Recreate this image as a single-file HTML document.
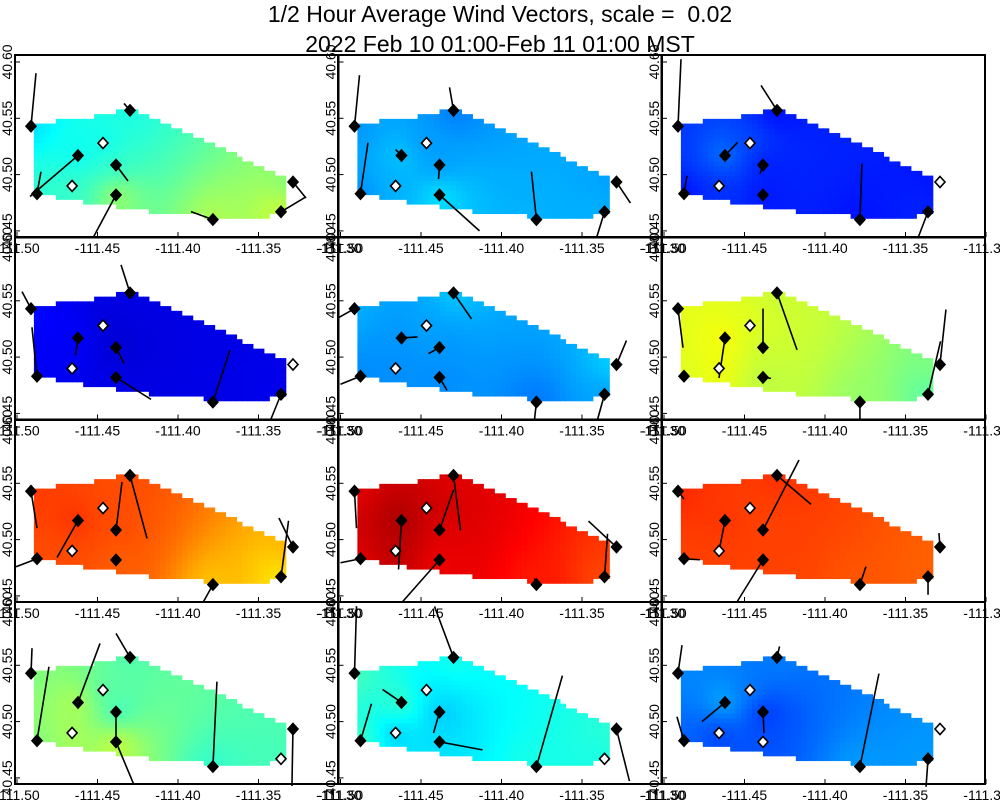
<!DOCTYPE html>
<html><head><meta charset="utf-8">
<style>
html,body{margin:0;padding:0;background:#fff;}
svg{display:block;font-family:"Liberation Sans",sans-serif;}
</style></head>
<body>
<svg id="chart" width="1000" height="800" viewBox="0 0 1000 800">
<text x="500" y="22" text-anchor="middle" font-size="23" xml:space="preserve">1/2 Hour Average Wind Vectors, scale =  0.02</text>
<text x="500" y="52" text-anchor="middle" font-size="23">2022 Feb 10 01:00-Feb 11 01:00 MST</text>
<g id="panels"></g>
<g id="labels"></g>
</svg>
<script>
// station locations
const stationLon = [-111.4913,-111.4298,-111.4466,-111.4621,-111.4385,-111.4658,-111.4876,-111.4385,-111.3783,-111.3286,-111.3360];
const stationLat = [40.5430,40.5570,40.5280,40.5170,40.5085,40.4900,40.4830,40.4820,40.4600,40.4934,40.4670];
// domain outline (lon, lat)
const domainLon = [-111.4888,-111.4621,-111.4311,-111.4267,-111.3304,-111.3323,-111.3329,-111.3658,-111.4068,-111.4317,-111.4590,-111.4795,-111.4888];
const domainLat = [40.5458,40.5494,40.5574,40.5565,40.4961,40.4899,40.4641,40.4615,40.4659,40.4703,40.4757,40.4810,40.4828];
// wind vector components per panel (east, north; null = missing)
const windU = [
 [5,-6,null,-48,12,null,4,-23,-22,13,25],
 [5,-4,null,-6,-1,null,7.5,40,-5,14,-8],
 [3,-16,null,12.5,-3,null,3,0,2,null,-10],
 [-9,-9,null,-2.5,8,null,-5,35,17,null,-11],
 [-16,18,null,16,-11,null,-20,7.5,-2,10,-7.5],
 [5,20,null,-6,0,null,0,8,0,6,12.5],
 [6,17,null,-21,6,null,-21,0,-10,-14,7.5],
 [2,7,null,-3,14,null,-20,-38,-2,-28,3],
 [6,34,null,-6,36,null,16,-26,6,-1,0],
 [1,-14,null,22,0,null,12,17.5,4,-1,null],
 [2,-19,null,-19,-6,null,11,43,26,13,null],
 [4,2.5,null,-23,1,null,-7,null,19,null,-2]
];
const windV = [
 [53,7,null,-41,-16,null,22,-43,8,-16,15],
 [51,23,null,6,-14,null,51,-36,48,-21,-26],
 [67,25,null,13,-9,null,18,0,56,null,-26],
 [17,28,null,-17,-16,null,49,-22,52,null,-27],
 [-9,-26,null,1,-6,null,-8,-13,-18,24,-27],
 [-39,-57,null,-40,39,null,0,-1,-19,55,53],
 [-37,-63,null,-37,48,null,-8,0,-18,29,56],
 [-37,-55,null,-49,40,null,-4,-43,6,26,43],
 [-8,-29,null,-31,70,null,-1,-42,18,14,-18],
 [25,24,null,59,-24,null,74,-42,85,-57,null],
 [67,51,null,13,-21,null,37,-8,91,-52,null],
 [28,11,null,-19,-21,null,24,null,93,null,-28]
];
// station filled (1) or open (0)
const stationFilled = [
 [1,1,0,1,1,0,1,1,1,1,1],
 [1,1,0,1,1,0,1,1,1,1,1],
 [1,1,0,1,1,0,1,1,1,0,1],
 [1,1,0,1,1,0,1,1,1,0,1],
 [1,1,0,1,1,0,1,1,1,1,1],
 [1,1,0,1,1,0,1,1,1,1,1],
 [1,1,0,1,1,0,1,1,1,1,1],
 [1,1,0,1,1,0,1,1,1,1,1],
 [1,1,0,1,1,0,1,1,1,1,1],
 [1,1,0,1,1,0,1,1,1,1,0],
 [1,1,0,1,1,0,1,1,1,1,0],
 [1,1,0,1,1,0,1,0,1,0,1]
];
// field values (0..1 colormap) at stations per panel
const fieldValues = [
 [0.33,0.40,0.38,0.37,0.42,0.43,0.42,0.56,0.55,0.50,0.58],
 [0.27,0.24,0.27,0.33,0.27,0.30,0.26,0.37,0.30,0.28,0.30],
 [0.18,0.13,0.20,0.27,0.14,0.17,0.13,0.14,0.14,0.14,0.16],
 [0.14,0.10,0.08,0.14,0.07,0.11,0.12,0.10,0.10,0.10,0.11],
 [0.30,0.33,0.29,0.27,0.27,0.26,0.26,0.26,0.24,0.34,0.28],
 [0.60,0.57,0.60,0.63,0.57,0.62,0.59,0.55,0.52,0.50,0.46],
 [0.82,0.80,0.80,0.84,0.80,0.80,0.80,0.78,0.68,0.70,0.64],
 [0.90,0.90,0.93,0.98,0.90,0.95,0.90,0.88,0.85,0.82,0.80],
 [0.84,0.83,0.81,0.83,0.81,0.81,0.81,0.81,0.79,0.78,0.78],
 [0.50,0.45,0.45,0.57,0.40,0.55,0.50,0.60,0.42,0.45,0.44],
 [0.45,0.40,0.35,0.47,0.30,0.30,0.45,0.34,0.40,0.42,0.40],
 [0.26,0.25,0.25,0.33,0.15,0.17,0.22,0.20,0.28,0.27,0.28]
];
const xTicks = [-111.50,-111.45,-111.40,-111.35,-111.30];
const xTickLabels = ["-111.50","-111.45","-111.40","-111.35","-111.30"];
const yTicks = [40.45,40.50,40.55,40.60];
const yTickLabels = ["40.45","40.50","40.55","40.60"];

const NS='http://www.w3.org/2000/svg';
const colX=[15,338.5,662], rowY=[55,237.5,420,602], PW=323, PH=182;
function xs(c,lon){return colX[c]+2+(lon+111.5)*1610;}
function ys(r,lat){return rowY[r]+7+(40.60-lat)*1126;}
function jet(v){const cl=t=>Math.max(0,Math.min(1,t));
 const r=cl(1.5-Math.abs(4*v-3)),g=cl(1.5-Math.abs(4*v-2)),b=cl(1.5-Math.abs(4*v-1));
 return 'rgb('+Math.round(r*255)+','+Math.round(g*255)+','+Math.round(b*255)+')';}
function inPoly(lon,lat){let ins=false;for(let i=0,j=domainLon.length-1;i<domainLon.length;j=i++){
 const xi=domainLon[i],yi=domainLat[i],xj=domainLon[j],yj=domainLat[j];
 if(((yi>lat)!=(yj>lat))&&(lon<(xj-xi)*(lat-yi)/(yj-yi)+xi))ins=!ins;}return ins;}
function mk(tag,attrs,parent){const e=document.createElementNS(NS,tag);for(const k in attrs)e.setAttribute(k,attrs[k]);parent.appendChild(e);return e;}
const gp=document.getElementById('panels'), gl=document.getElementById('labels');
const dLon=0.0034,dLat=0.0042;
for(let p=0;p<12;p++){
 const r=Math.floor(p/3),c=p%3;
 const g=mk('g',{},gp);
 
 
 const bg=mk('rect',{x:colX[c],y:rowY[r],width:PW,height:PH,fill:'#fff'},g);
 
 
 const hg=mk('g',{},g);
 
 
 for(let lat=40.4445;lat<40.56;lat+=dLat){
  for(let lon=-111.4895;lon<-111.33;lon+=dLon){
   const cl=lon+dLon/2,ct=lat+dLat/2;
   if(!inPoly(cl,ct))continue;
   let sw=0,sv=0;
   for(let s=0;s<stationLon.length;s++){
    const dx=(cl-stationLon[s])*1610,dy=(ct-stationLat[s])*1126;
    const w=1/Math.pow(dx*dx+dy*dy+300,1.1);sw+=w;sv+=w*fieldValues[p][s];}
   const x0=xs(c,lon),y1=ys(r,lat+dLat);
   const cell=mk('rect',{x:x0.toFixed(2),y:y1.toFixed(2),width:(dLon*1610+0.6).toFixed(2),height:(dLat*1126+0.6).toFixed(2),fill:jet(sv/sw)},hg);
   
   
  }
 }
 // vectors
 for(let s=0;s<stationLon.length;s++){
  if(windU[p][s]===null)continue;
  const x=xs(c,stationLon[s]),y=ys(r,stationLat[s]);
  const ln=mk('line',{x1:x,y1:y,x2:x+windU[p][s],y2:y-windV[p][s],stroke:'#000','stroke-width':1.6},g);
  
  
 }
 // stations
 for(let s=0;s<stationLon.length;s++){
  const x=xs(c,stationLon[s]),y=ys(r,stationLat[s]);
  const f=stationFilled[p][s];
  const pts=x.toFixed(1)+','+(y-5.5).toFixed(1)+' '+(x+5).toFixed(1)+','+y.toFixed(1)+' '+x.toFixed(1)+','+(y+5.5).toFixed(1)+' '+(x-5).toFixed(1)+','+y.toFixed(1);
  const d=mk('polygon',{points:pts,style:'fill:'+(f?'#000':'#fff')+';stroke:#000;stroke-width:1.6'},g);
  
  
 }
 // ticks
 for(let i=0;i<yTicks.length;i++){
  const y=ys(r,yTicks[i]);
  const t=mk('line',{x1:colX[c],y1:y,x2:colX[c]+5,y2:y,stroke:'#000','stroke-width':1},g);
  
  
 }
 for(let i=0;i<xTicks.length;i++){
  const x=xs(c,xTicks[i]);
  const t=mk('line',{x1:x,y1:rowY[r]+PH,x2:x,y2:rowY[r]+PH-5,stroke:'#000','stroke-width':1},g);
  
  
 }
 const fr=mk('rect',{x:colX[c],y:rowY[r],width:PW,height:PH,fill:'none',stroke:'#000','stroke-width':2},g);
 
 
 // labels
 for(let i=0;i<xTicks.length;i++){
  const t=mk('text',{x:xs(c,xTicks[i]),y:rowY[r]+PH+16,'text-anchor':'middle','font-size':14},gl);
  t.textContent=xTickLabels[i];
  
  
 }
 for(let i=0;i<yTicks.length;i++){
  const x=colX[c]-3,y=ys(r,yTicks[i]);
  const t=mk('text',{x:x,y:y,'text-anchor':'middle','font-size':14,transform:'rotate(-90 '+x+' '+y+')'},gl);
  t.textContent=yTickLabels[i];
  
  
 }
}
</script>
</body></html>
